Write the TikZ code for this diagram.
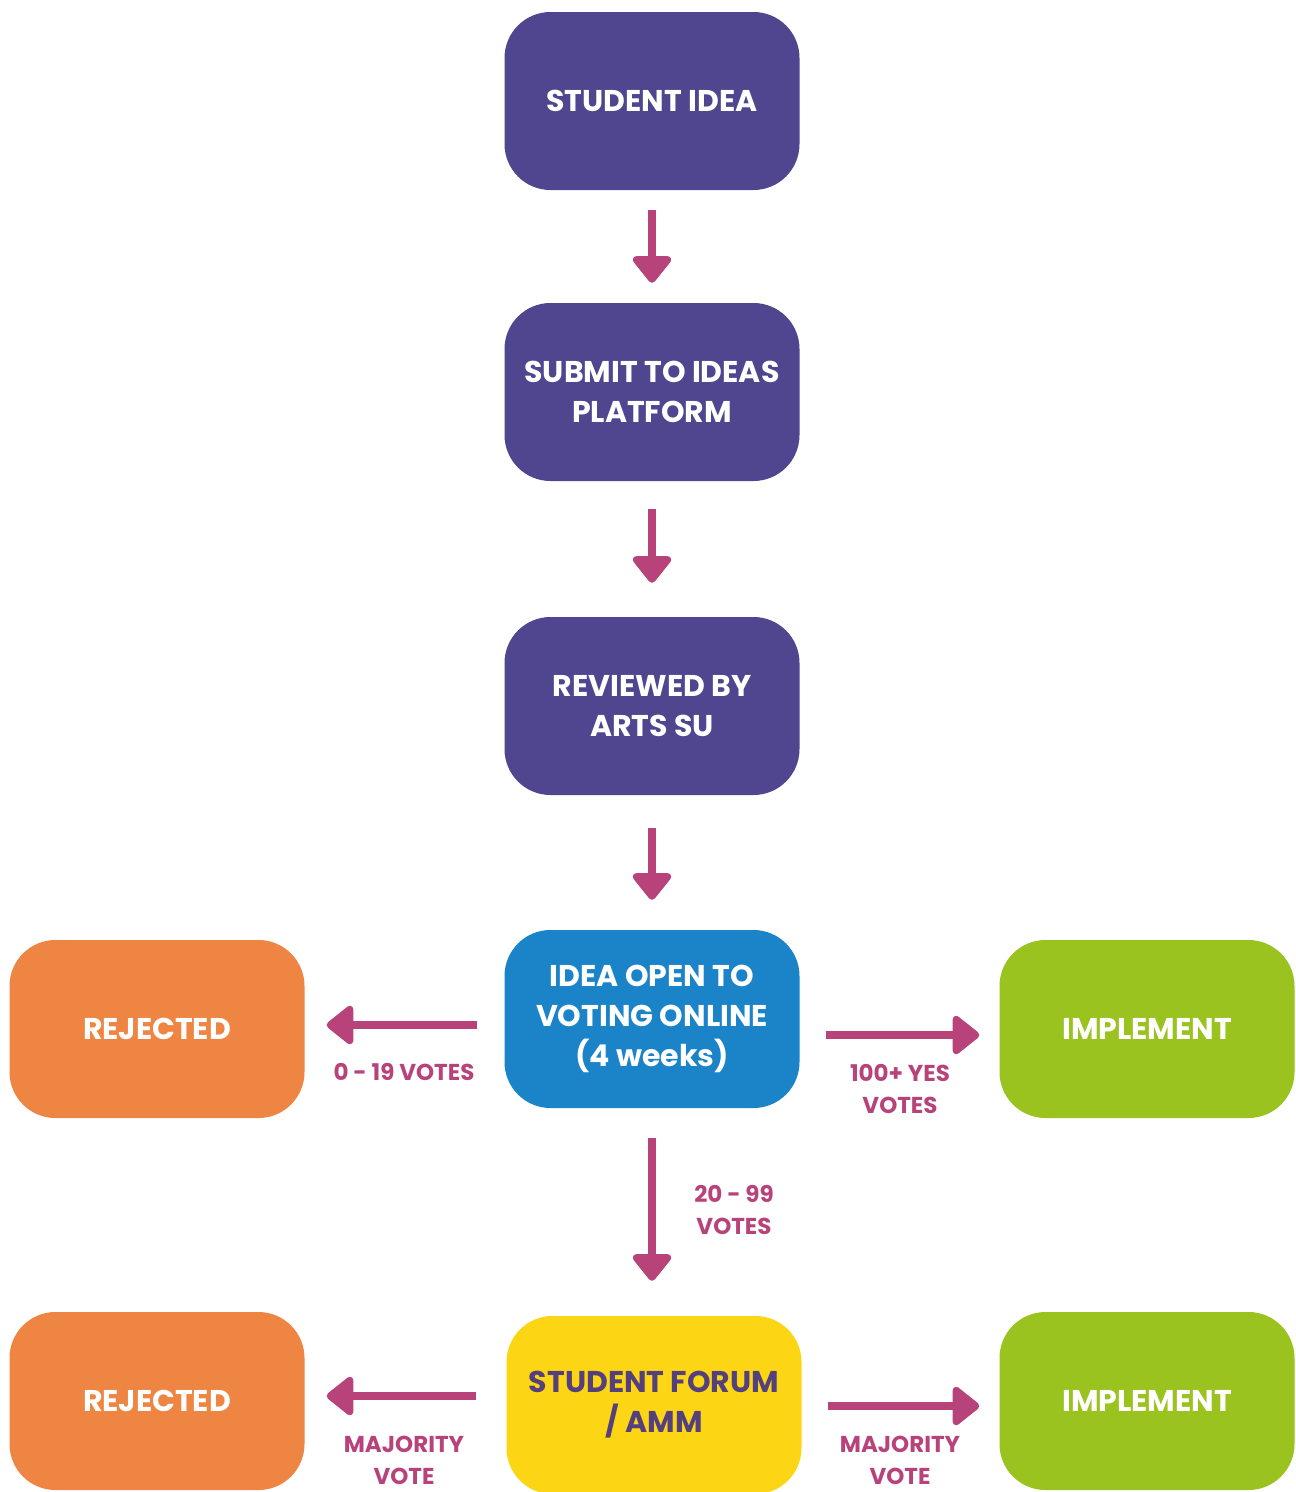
\documentclass[tikz,border=0pt]{standalone}
\usepackage{fontspec}
\setmainfont{Poppins}
\usetikzlibrary{arrows.meta}
\definecolor{cpurple}{HTML}{4F468F}
\definecolor{cblue}{HTML}{1B84C9}
\definecolor{corange}{HTML}{EE8542}
\definecolor{cgreen}{HTML}{9AC31F}
\definecolor{cyellow}{HTML}{FCD515}
\definecolor{carrow}{HTML}{B8437B}
\definecolor{cdark}{HTML}{55407E}
\tikzset{
  box/.style={rounded corners=46pt, minimum width=295pt, minimum height=178pt,
    text=white, align=center, inner sep=0pt,
    font=\bfseries\fontsize{30}{40}\selectfont},
  arr/.style={draw=carrow, line width=8pt,
    -{Triangle[width=44pt,length=29pt,round]}},
  lbl/.style={text=carrow, align=center, inner sep=0pt,
    font=\bfseries\fontsize{23}{32}\selectfont}
}
\begin{document}
\begin{tikzpicture}[x=1pt,y=-1pt]
\useasboundingbox (0,0) rectangle (1296,1492);
\fill[white] (0,0) rectangle (1296,1492);
\node[box, fill=cpurple] (idea) at (652,101) {STUDENT IDEA};
\node[box, fill=cpurple] (submit) at (652,392) {SUBMIT TO IDEAS\\PLATFORM};
\node[box, fill=cpurple] (review) at (652,706) {REVIEWED BY\\ARTS SU};
\node[box, fill=cblue] (open) at (652,1019) {IDEA OPEN TO\\VOTING ONLINE\\(4 weeks)};
\node[box, fill=corange] (rej1) at (157,1029) {REJECTED};
\node[box, fill=cgreen] (imp1) at (1147,1029) {IMPLEMENT};
\node[box, fill=cyellow, text=cdark] (forum) at (654,1405) {STUDENT FORUM\\/ AMM};
\node[box, fill=corange] (rej2) at (157,1401) {REJECTED};
\node[box, fill=cgreen] (imp2) at (1147,1401) {IMPLEMENT};

\draw[arr, shorten <=20pt, shorten >=20pt] (idea.south) -- (submit.north);
\draw[arr, shorten <=28pt, shorten >=34pt] (submit.south) -- (review.north);
\draw[arr, shorten <=33pt, shorten >=30pt] (review.south) -- (open.north);
\draw[arr, shorten <=27pt, shorten >=22pt] ([yshift=-6pt]open.west) -- ([yshift=4pt]rej1.east);
\draw[arr, shorten <=26pt, shorten >=20pt] ([yshift=-16pt]open.east) -- ([yshift=-6pt]imp1.west);
\draw[arr, shorten <=30pt, shorten >=35pt] (open.south) -- ([xshift=-2pt]forum.north);
\draw[arr, shorten <=30pt, shorten >=22pt] ([yshift=9pt]forum.west) -- ([yshift=5pt]rej2.east);
\draw[arr, shorten <=26pt, shorten >=20pt] ([yshift=-1pt]forum.east) -- ([yshift=-5pt]imp2.west);

\node[lbl] (l1) at (404,1072) {0 - 19 VOTES};
\node[lbl] (l2) at (900,1089) {100+ YES\\VOTES};
\node[lbl] (l3) at (734,1210) {20 - 99\\VOTES};
\node[lbl] (l4) at (404,1460) {MAJORITY\\VOTE};
\node[lbl] (l5) at (900,1460) {MAJORITY\\VOTE};
\end{tikzpicture}
\end{document}
